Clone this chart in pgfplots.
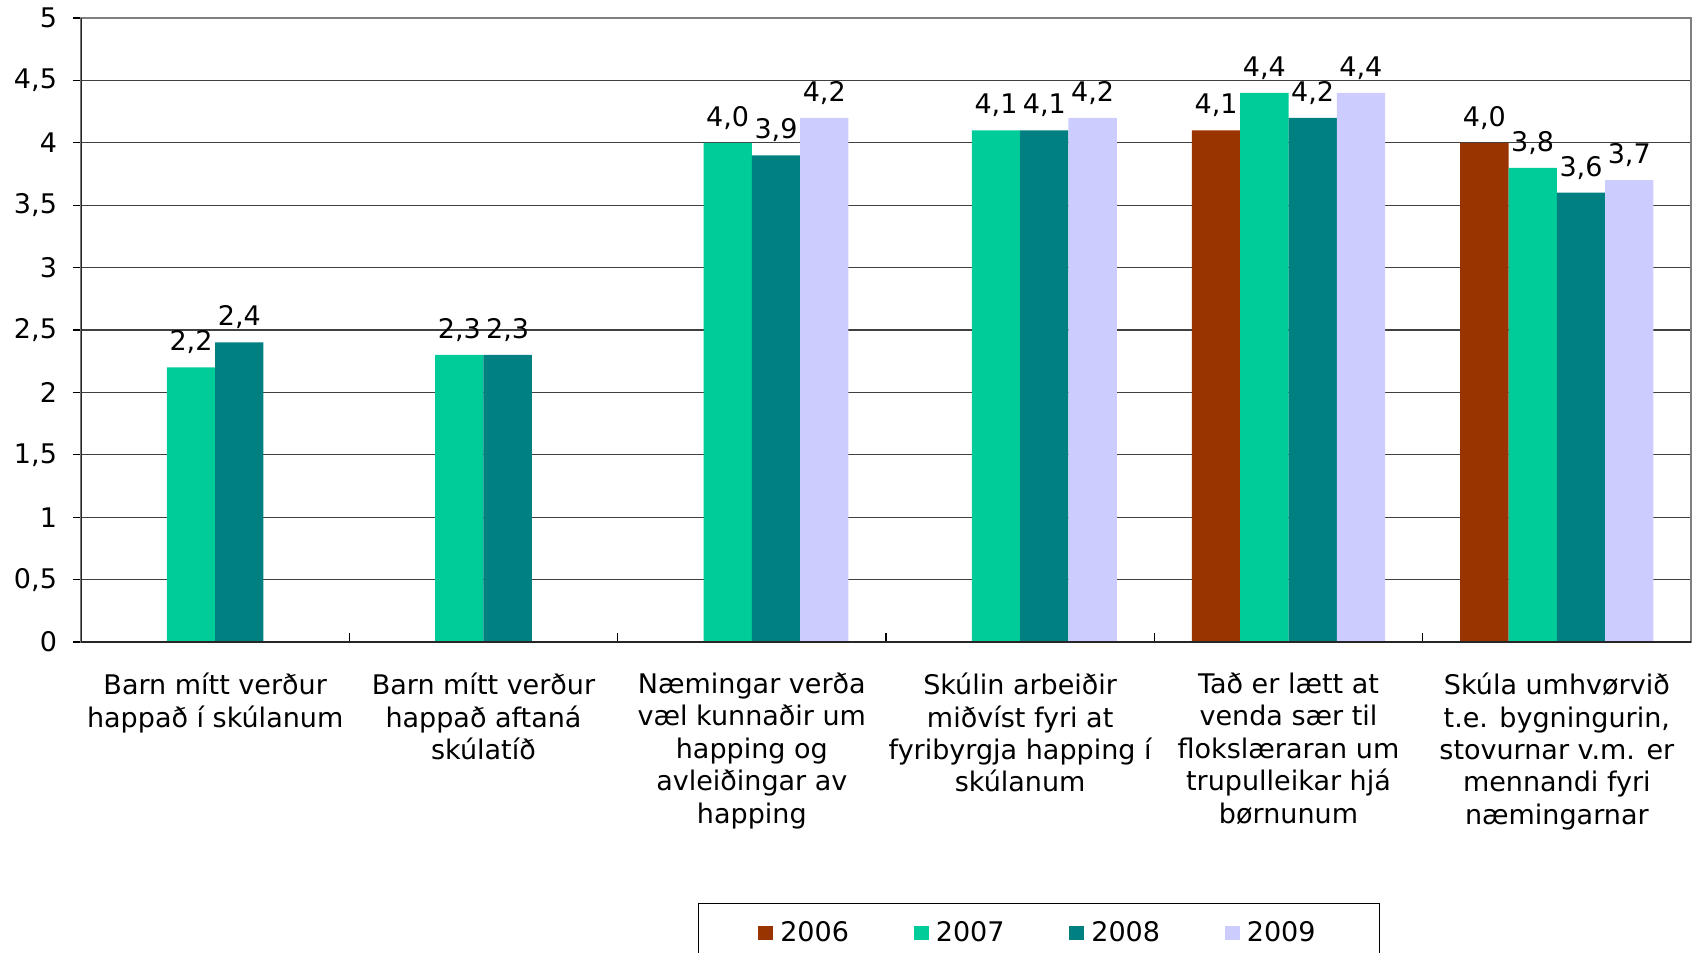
\documentclass[border=0pt]{standalone}
\usepackage{fontspec}
\setmainfont{DejaVu Sans}
\usepackage{pgfplots}
\pgfplotsset{compat=1.18}
\definecolor{c2006}{HTML}{993300}
\definecolor{c2007}{HTML}{00CC99}
\definecolor{c2008}{HTML}{008080}
\definecolor{c2009}{HTML}{CCCCFF}
\begin{document}
\begin{tikzpicture}[font=\fontsize{13.5}{16.2}\selectfont]
\begin{axis}[
  scale only axis, width=805pt, height=312pt,
  xmin=-0.5, xmax=5.5, ymin=0, ymax=5,
  ytick={0,0.5,1,1.5,2,2.5,3,3.5,4,4.5,5},
  yticklabel style={xshift=-4.5pt, /pgf/number format/use comma, /pgf/number format/assume math mode=true},
  ymajorgrids, grid style={black!75, line width=0.6pt},
  ytick style={black, line width=0.6pt},
  ytick pos=left, xtick pos=bottom, tick align=outside,
  major tick length=4pt,
  xtick={0,1,2,3,4,5},
  xticklabels={
    {Barn mítt verður\\happað í skúlanum},
    {Barn mítt verður\\happað aftaná\\skúlatíð},
    {Næmingar verða\\væl kunnaðir um\\happing og\\avleiðingar av\\happing},
    {Skúlin arbeiðir\\miðvíst fyri at\\fyribyrgja happing í\\skúlanum},
    {Tað er lætt at\\venda sær til\\flokslæraran um\\trupulleikar hjá\\børnunum},
    {Skúla umhvørvið\\t.e. bygningurin,\\stovurnar v.m. er\\mennandi fyri\\næmingarnar}},
  xticklabel style={align=center, yshift=-8pt},
  x tick style={draw=none},
  extra x ticks={0.5,1.5,2.5,3.5,4.5},
  extra x tick labels={},
  extra x tick style={major tick length=-4.5pt, x tick style={draw=black, line width=0.6pt}},
  axis line style={black!50, line width=1pt},
  ybar=0pt, bar width=0.18,
  nodes near coords,
  nodes near coords style={/pgf/number format/fixed, /pgf/number format/fixed zerofill, /pgf/number format/precision=1, /pgf/number format/use comma, /pgf/number format/assume math mode=true},
  every node near coord/.append style={black, inner sep=1.5pt, yshift=5pt},
  legend columns=4,
  legend image code/.code={\path (0pt,0pt) (9pt,0pt); \fill[#1] (0pt,-3.7pt) rectangle (7.4pt,3.7pt);},
  legend style={at={(0.595,-0.418)}, anchor=north, draw=black, line width=0.6pt,
    inner xsep=30pt, inner ysep=7pt,
    /tikz/every even column/.append style={column sep=30.4pt},
    nodes={inner xsep=2pt}},
]
\addplot[fill=c2006, draw=none, bar shift=-0.27] coordinates {(4,4.1) (5,4.0)};
\addplot[fill=c2007, draw=none, bar shift=-0.09] coordinates {(0,2.2) (1,2.3) (2,4.0) (3,4.1) (4,4.4) (5,3.8)};
\addplot[fill=c2008, draw=none, bar shift=0.09] coordinates {(0,2.4) (1,2.3) (2,3.9) (3,4.1) (4,4.2) (5,3.6)};
\addplot[fill=c2009, draw=none, bar shift=0.27] coordinates {(2,4.2) (3,4.2) (4,4.4) (5,3.7)};
\legend{2006,2007,2008,2009}
\draw[black!85, line width=1.2pt] (rel axis cs:0,1) -- (rel axis cs:0,0) -- (rel axis cs:1,0);
\end{axis}
\pgfresetboundingbox
\useasboundingbox (-40.5pt,-155.5pt) rectangle (806.5pt,321pt);
\end{tikzpicture}
\end{document}
